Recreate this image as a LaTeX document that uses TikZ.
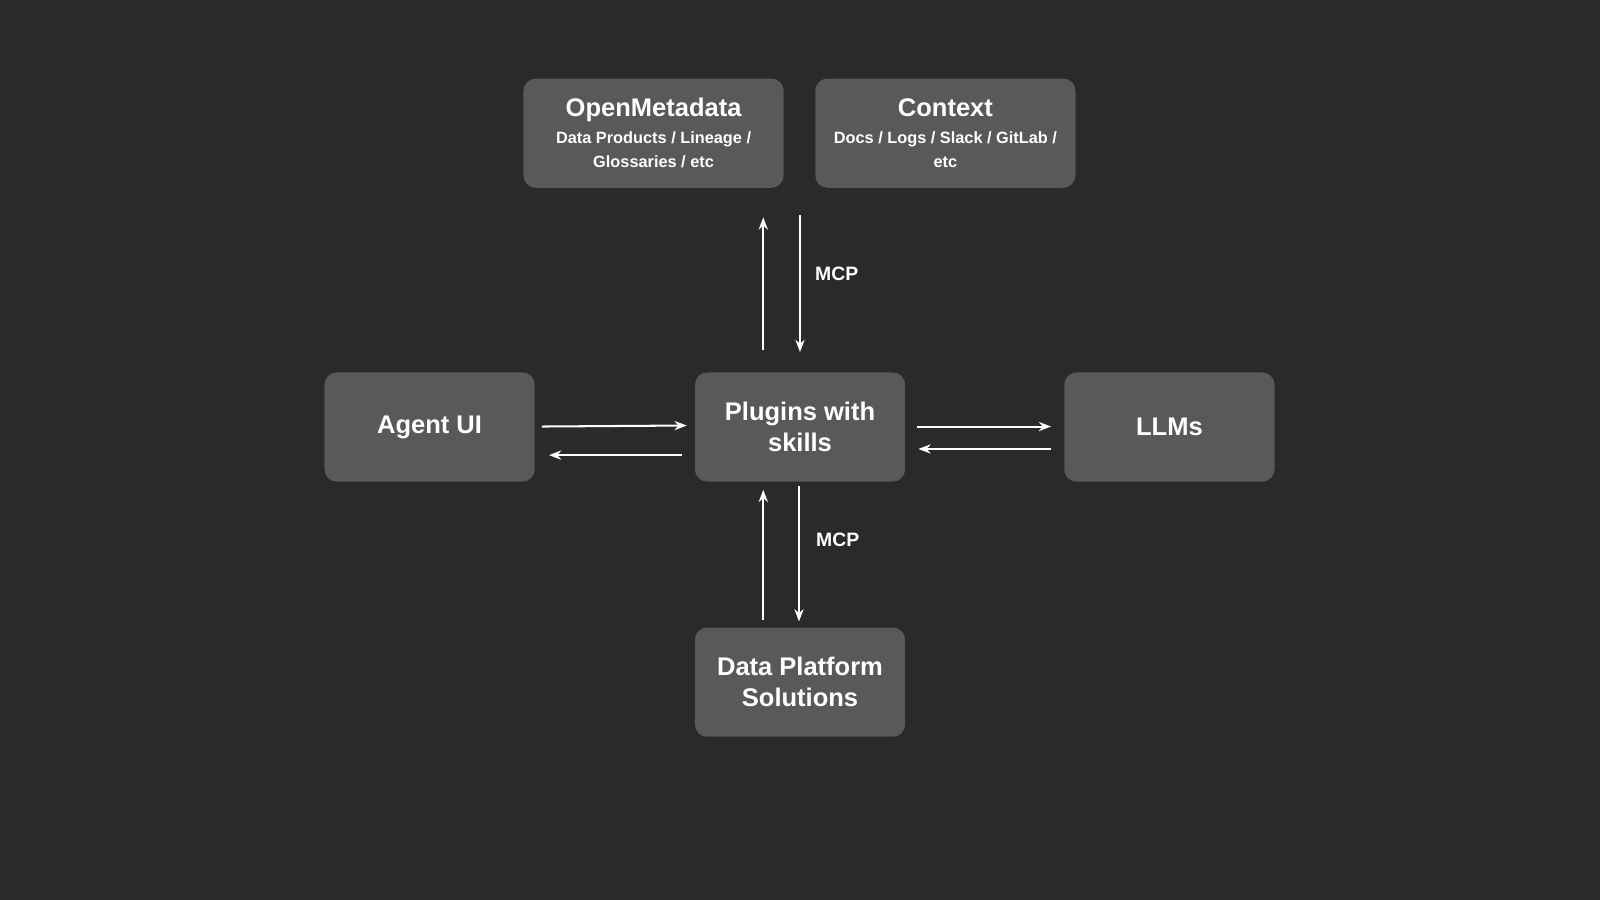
\documentclass[tikz,border=0pt]{standalone}
\usepackage{fontspec}
\setmainfont{Liberation Sans}
\usetikzlibrary{arrows.meta}
\definecolor{bg}{HTML}{2A2A2A}
\definecolor{boxc}{HTML}{595959}
\begin{document}
\begin{tikzpicture}[x=0.5pt,y=-0.5pt,
 box/.style={draw=none,fill=boxc,rounded corners=6pt,text=white,font=\bfseries,align=center,inner sep=0pt},
 small/.style={box,minimum width=103pt,minimum height=53.5pt,font=\bfseries\fontsize{12.5}{15}\selectfont},
 wide/.style={box,minimum width=127.5pt,minimum height=53.5pt},
 arr/.style={draw=white,line width=1pt,-{Stealth[length=6pt,width=4.5pt]}},
 lab/.style={text=white,font=\bfseries\fontsize{9.5}{11}\selectfont}]
\fill[bg] (0,0) rectangle (1568,882);
\useasboundingbox (0,0) rectangle (1568,882);
\node[wide] (om) at (640.5,130.5) {{\fontsize{12.5}{15}\selectfont OpenMetadata}\\[1pt]{\fontsize{8}{9.7}\selectfont Data Products / Lineage /}\\{\fontsize{8}{9.7}\selectfont Glossaries / etc}};
\node[wide] (ctx) at (926.5,130.5) {{\fontsize{12.5}{15}\selectfont Context}\\[1pt]{\fontsize{8}{9.7}\selectfont Docs / Logs / Slack / GitLab /}\\{\fontsize{8}{9.7}\selectfont etc}};
\node[small] (ui) at (421,418.5) {Agent UI};
\node[small] (pl) at (784,418.5) {Plugins with\\skills};
\node[small] (llm) at (1146,418.5) {LLMs};
\node[small] (dp) at (784,668.5) {Data Platform\\Solutions};
\coordinate (a1) at (748,343); \coordinate (a2) at (748,213);
\coordinate (b1) at (784,211); \coordinate (b2) at (784,345);
\coordinate (c1) at (531,418); \coordinate (c2) at (673,417);
\coordinate (d1) at (668,446); \coordinate (d2) at (538,446);
\coordinate (e1) at (899,418); \coordinate (e2) at (1030,418);
\coordinate (f1) at (1030,440); \coordinate (f2) at (900,440);
\coordinate (g1) at (748,608); \coordinate (g2) at (748,480);
\coordinate (h1) at (783,476); \coordinate (h2) at (783,609);
\foreach \s/\t in {a1/a2,b1/b2,c1/c2,d1/d2,e1/e2,f1/f2,g1/g2,h1/h2} \draw[arr] (\s) -- (\t);
\node[lab] (m1) at (820,268) {MCP};
\node[lab] (m2) at (821,529) {MCP};
\end{tikzpicture}
\end{document}
